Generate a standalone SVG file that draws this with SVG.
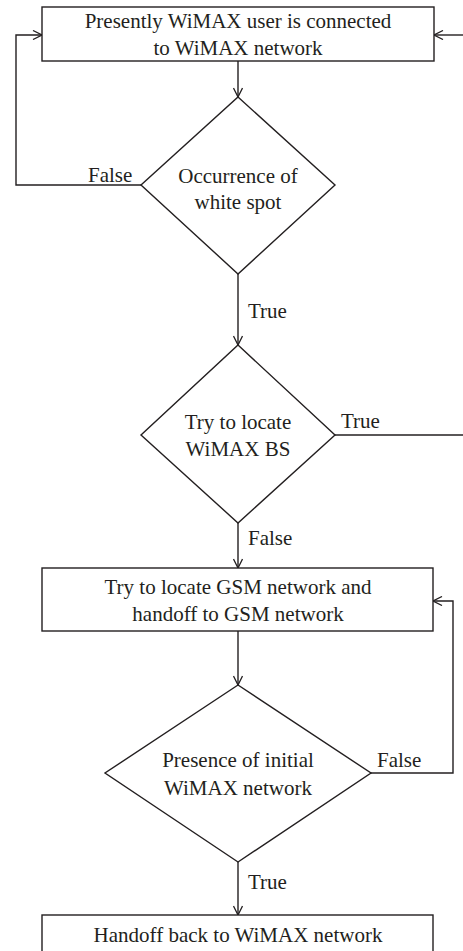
<svg xmlns="http://www.w3.org/2000/svg" width="463" height="951" viewBox="0 0 463 951">
<style>
.shape{fill:#fff;stroke:#231f20;stroke-width:1.4}
.line{fill:none;stroke:#231f20;stroke-width:1.4}
text{font-family:"Liberation Serif","DejaVu Serif",serif;font-size:21px;fill:#231f20}
.c{text-anchor:middle}
</style>
<defs>
<marker id="ah" viewBox="0 0 10 10" refX="10" refY="5" markerWidth="10" markerHeight="10" markerUnits="userSpaceOnUse" orient="auto">
<path d="M1,0.5 L10,5 L1,9.5" fill="none" stroke="#231f20" stroke-width="1.3"/>
</marker>
</defs>
<rect width="463" height="951" fill="#fff"/>
<g id="connectors">
<line class="line" x1="238" y1="61" x2="238" y2="97" marker-end="url(#ah)"/>
<polyline class="line" points="141,185 16,185 16,35 42,35" marker-end="url(#ah)"/>
<line class="line" x1="238" y1="274" x2="238" y2="345" marker-end="url(#ah)"/>
<polyline class="line" points="335,435 463,435"/>
<line class="line" x1="463" y1="35" x2="434" y2="35" marker-end="url(#ah)"/>
<line class="line" x1="238" y1="523" x2="238" y2="568" marker-end="url(#ah)"/>
<line class="line" x1="238" y1="631" x2="238" y2="685" marker-end="url(#ah)"/>
<polyline class="line" points="371,773 453,773 453,601 433,601" marker-end="url(#ah)"/>
<line class="line" x1="238" y1="862" x2="238" y2="915" marker-end="url(#ah)"/>
<text x="88" y="182">False</text>
<text x="248" y="318">True</text>
<text x="341" y="428">True</text>
<text x="248" y="545">False</text>
<text x="377" y="767">False</text>
<text x="248" y="889">True</text>
</g>
<g id="start">
<rect class="shape" x="42" y="7" width="392" height="54"/>
<text class="c" x="238" y="28">Presently WiMAX user is connected</text>
<text class="c" x="238" y="55">to WiMAX network</text>
</g>
<g id="whitespot">
<polygon class="shape" points="238,97 335,185 238,274 141,185"/>
<text class="c" x="238" y="183">Occurrence of</text>
<text class="c" x="238" y="209">white spot</text>
</g>
<g id="locatebs">
<polygon class="shape" points="238,345 335,435 238,523 141,435"/>
<text class="c" x="238" y="429">Try to locate</text>
<text class="c" x="238" y="456">WiMAX BS</text>
</g>
<g id="gsm">
<rect class="shape" x="42" y="568" width="391" height="63"/>
<text class="c" x="238" y="594">Try to locate GSM network and</text>
<text class="c" x="238" y="621">handoff to GSM network</text>
</g>
<g id="presence">
<polygon class="shape" points="238,685 371,773 238,862 105,773"/>
<text class="c" x="238" y="767">Presence of initial</text>
<text class="c" x="238" y="795">WiMAX network</text>
</g>
<g id="handback">
<rect class="shape" x="42" y="915" width="391" height="40"/>
<text class="c" x="238" y="942">Handoff back to WiMAX network</text>
</g>
</svg>
